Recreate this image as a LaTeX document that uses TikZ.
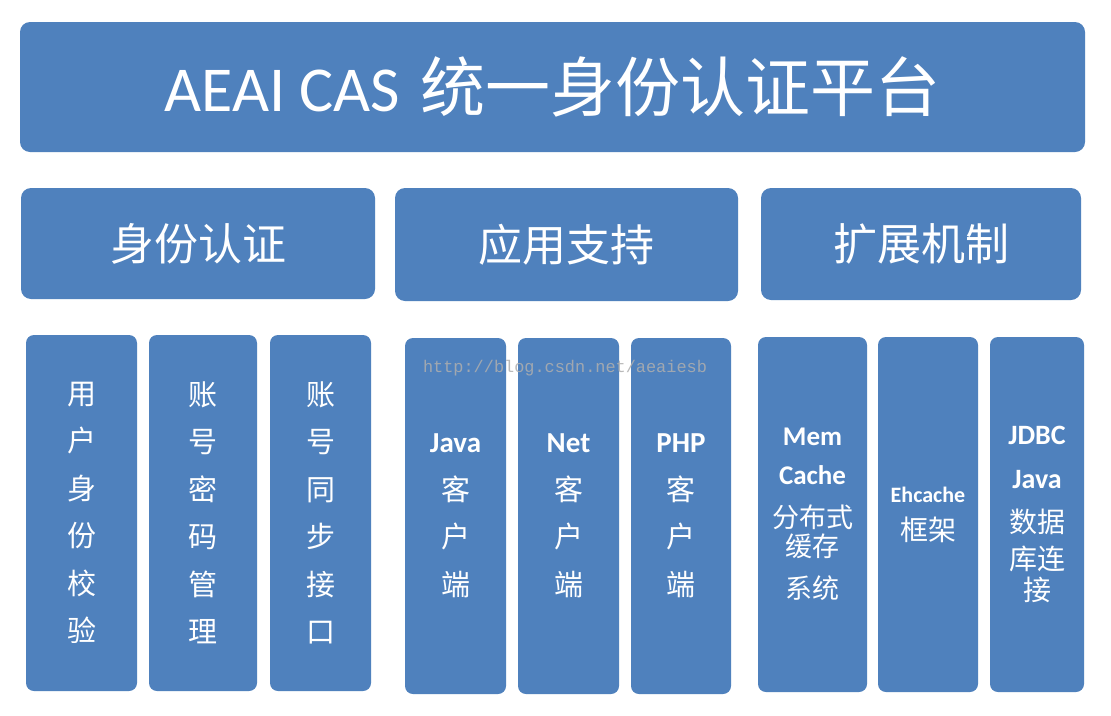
\documentclass[tikz,border=0pt]{standalone}
\usepackage{fontspec}
\setmainfont{Carlito}
\newfontfamily\zhfont{Noto Sans CJK SC}
\newfontfamily\urlfont{Liberation Mono}
\definecolor{casblue}{RGB}{79,129,189}
\definecolor{wmgray}{RGB}{174,174,174}
\newcommand{\en}[1]{{\rmfamily\bfseries #1}}
\tikzset{
	panel/.style={fill=casblue,rounded corners=10pt,text=white,inner sep=0pt,align=center},
	col/.style={panel,rounded corners=8pt,minimum height=356pt},
}
\begin{document}
\begin{tikzpicture}[x=1pt,y=-1pt]
	\fill [white] (0,0) rectangle (1111,715);
	% platform
	\node [panel,minimum width=1065pt,minimum height=130pt,font=\fontsize{64}{64}\selectfont] (cas) at (552.5,87) {AEAI CAS\ \hspace{6pt}{\zhfont\fontsize{65}{65}\selectfont 统一身份认证平台}};
	% three parts
	\node [panel,minimum width=354pt,minimum height=111pt,font=\zhfont\fontsize{44}{44}\selectfont] (auth) at (198,243.5) {身份认证};
	\node [panel,minimum width=343pt,minimum height=113pt,font=\zhfont\fontsize{44}{44}\selectfont] (app) at (566.5,244.5) {应用支持};
	\node [panel,minimum width=320pt,minimum height=112pt,font=\zhfont\fontsize{44}{44}\selectfont] (ext) at (921,244) {扩展机制};
	% authentication
	\node [col,minimum width=111pt,font=\zhfont\fontsize{29}{47.5}\selectfont] (auth1) at (81.5,513) {用\\户\\身\\份\\校\\验};
	\node [col,minimum width=108pt,font=\zhfont\fontsize{29}{47.5}\selectfont] (auth2) at (203,513) {账\\号\\密\\码\\管\\理};
	\node [col,minimum width=101pt,font=\zhfont\fontsize{29}{47.5}\selectfont] (auth3) at (320.5,513) {账\\号\\同\\步\\接\\口};
	% clients
	\node [col,minimum width=101pt,font=\zhfont\fontsize{29}{47.5}\selectfont] (app1) at (455.5,516) {\en{Java}\\客\\户\\端};
	\node [col,minimum width=101pt,font=\zhfont\fontsize{29}{47.5}\selectfont] (app2) at (568.5,516) {\en{Net}\\客\\户\\端};
	\node [col,minimum width=100pt,font=\zhfont\fontsize{29}{47.5}\selectfont] (app3) at (681,516) {\en{PHP}\\客\\户\\端};
	% extensions
	\node [col,minimum width=109pt,minimum height=355pt,font=\zhfont\fontsize{27}{29}\selectfont] (ext1) at (812.5,514.5) {\en{Mem}\\[10pt]\en{Cache}\\[13.5pt]分布式\\缓存\\[13pt]系统};
	\node [col,minimum width=100pt,minimum height=355pt,font=\zhfont\fontsize{28}{38}\selectfont] (ext2) at (928,514.5) {{\fontsize{22}{22}\selectfont\en{Ehcache}}\\框架};
	\node [col,minimum width=94pt,minimum height=355pt,font=\zhfont\fontsize{28}{31}\selectfont] (ext3) at (1037,514.5) {\en{JDBC}\\[12.5pt]\en{Java}\\[13.5pt]数据\\[6pt]库连\\接};
	% watermark
	\node [font=\urlfont\fontsize{16.9}{16.9}\selectfont,text=wmgray,text opacity=0.86,inner sep=0pt] (mark) at (565,368) {http://blog.csdn.net/aeaiesb};
\end{tikzpicture}
\end{document}
